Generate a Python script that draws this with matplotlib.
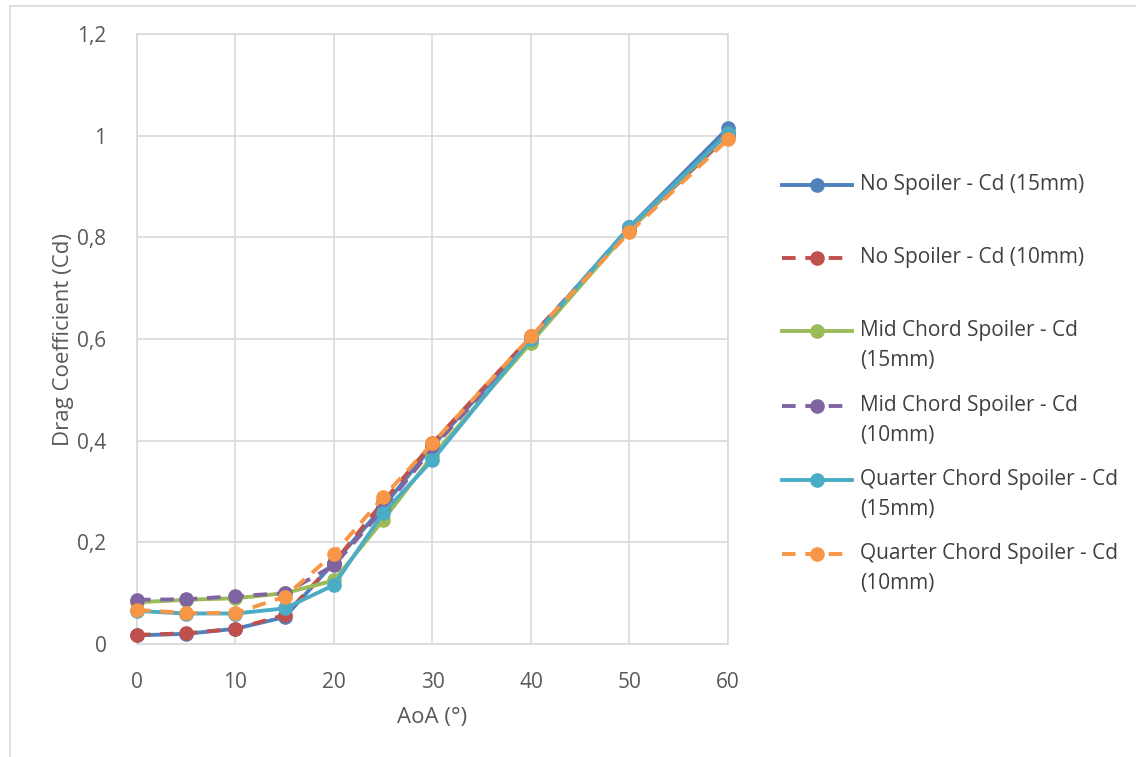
import matplotlib.pyplot as plt
from matplotlib.lines import Line2D
from matplotlib.ticker import FuncFormatter

plt.rcParams['font.family'] = ['Open Sans', 'DejaVu Sans']

# AoA values (numeric x axis)
aoa = [0, 5, 10, 15, 20, 25, 30, 40, 50, 60]

no_sp_15 = [0.017, 0.020, 0.030, 0.053, 0.160, 0.270, 0.390, 0.600, 0.820, 1.015]
no_sp_10 = [0.018, 0.021, 0.030, 0.057, 0.160, 0.280, 0.395, 0.605, 0.815, 1.000]
mid_15 = [0.082, 0.087, 0.090, 0.100, 0.125, 0.244, 0.370, 0.593, 0.815, 1.005]
mid_10 = [0.087, 0.088, 0.094, 0.100, 0.155, 0.265, 0.385, 0.600, 0.820, 1.005]
qtr_15 = [0.065, 0.060, 0.060, 0.070, 0.116, 0.258, 0.362, 0.600, 0.820, 1.005]
qtr_10 = [0.067, 0.061, 0.061, 0.093, 0.178, 0.289, 0.395, 0.605, 0.810, 0.993]

labels = ['No Spoiler - Cd (15mm)', 'No Spoiler - Cd (10mm)',
          'Mid Chord Spoiler - Cd\n(15mm)', 'Mid Chord Spoiler - Cd\n(10mm)',
          'Quarter Chord Spoiler - Cd\n(15mm)', 'Quarter Chord Spoiler - Cd\n(10mm)']
colors = ['#4F81BD', '#C0504D', '#9BBB59', '#8064A2', '#4BACC6', '#F79646']
styles = ['-', (0, (3.5, 2.5)), '-', (0, (3.5, 2.5)), '-', (0, (3.5, 2.5))]
series = [no_sp_15, no_sp_10, mid_15, mid_10, qtr_15, qtr_10]

W, H = 1136, 757
fig = plt.figure(figsize=(W / 100, H / 100), dpi=100)
ax = fig.add_axes([137 / W, 1 - 644 / H, (728 - 137) / W, (644 - 34) / H])

for ys, c, ls, lab in zip(series, colors, styles, labels):
    ax.plot(aoa, ys, color=c, linestyle=ls, linewidth=2.8, marker='o',
            markersize=9.5, label=lab, zorder=3, clip_on=False)

ax.set_xlim(0, 60)
ax.set_ylim(0, 1.2)
ax.set_xticks(range(0, 61, 10))
ax.set_yticks([0, 0.2, 0.4, 0.6, 0.8, 1.0, 1.2])
ax.yaxis.set_major_formatter(FuncFormatter(lambda v, p: ('%g' % round(v, 1)).replace('.', ',')))
ax.grid(True, color='#D9D9D9', linewidth=1.2)
ax.set_axisbelow(True)
for s in ax.spines.values():
    s.set_color('#D9D9D9')
    s.set_linewidth(1.2)
ax.tick_params(length=0, labelsize=15, colors='#595959')
ax.tick_params(axis='y', pad=22)
ax.tick_params(axis='x', pad=20)
ax.set_xlabel('AoA (°)', fontsize=16, color='#595959', labelpad=10)
ax.set_ylabel('Drag Coefficient (Cd)', fontsize=16, color='#595959', labelpad=2)

# legend drawn by hand to copy the fixed row pitch
rows = [185, 258, 331, 406, 480, 554]
for r, c, ls, lab in zip(rows, colors, styles, labels):
    yf = 1 - r / H
    fig.add_artist(Line2D([782 / W, 852 / W], [yf, yf], color=c, linestyle=ls, lw=2.8))
    fig.add_artist(Line2D([817 / W], [yf], color=c, marker='o', markersize=9.5, lw=0))
    fig.text(860 / W, yf + 11 / H, lab, fontsize=15, color='#404040', va='top',
             linespacing=1.55)

# chart area border
fig.add_artist(Line2D([10 / W, 1], [1 - 6 / H] * 2, color='#D9D9D9', lw=1.2))
fig.add_artist(Line2D([10 / W] * 2, [0, 1 - 6 / H], color='#D9D9D9', lw=1.2))

fig.savefig('out.png', dpi=100)
